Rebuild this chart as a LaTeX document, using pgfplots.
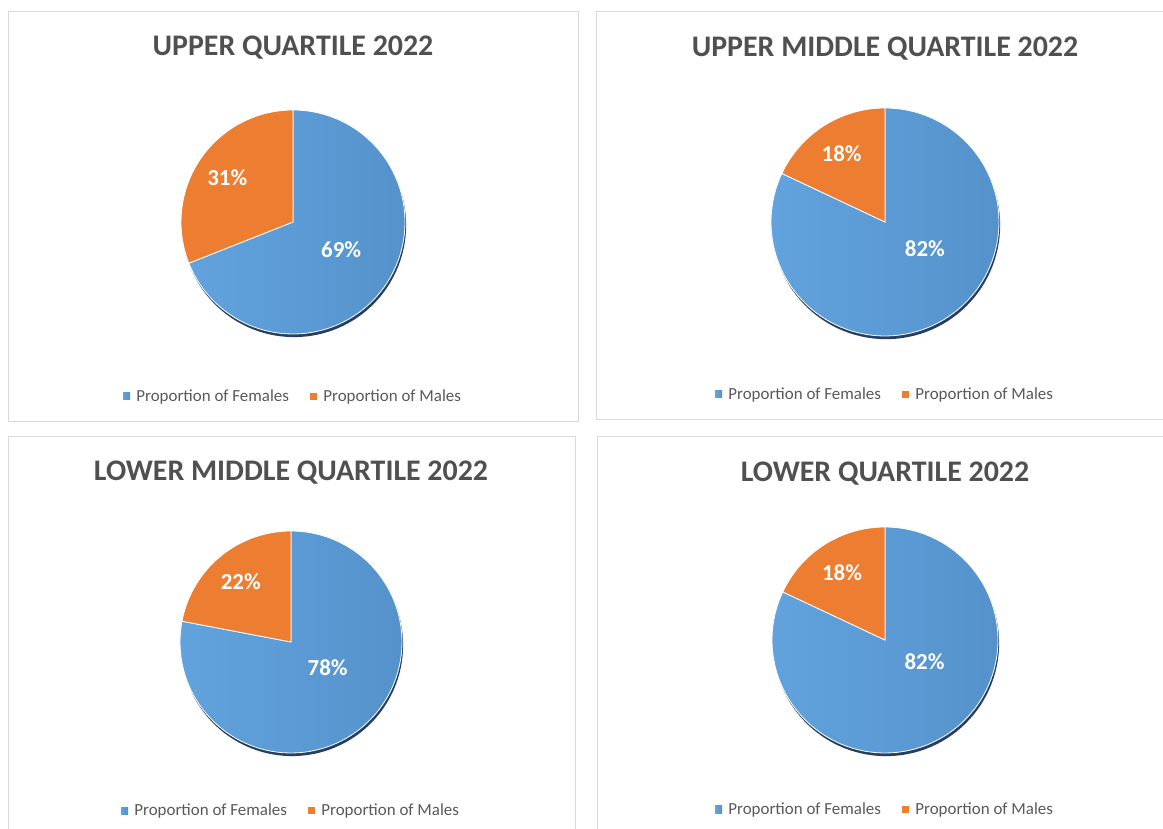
\documentclass[border=0pt]{standalone}
\usepackage{fontspec}
\setmainfont{Carlito}
\usepackage{pgfplots}
\usepackage{pgfplotstable}
\pgfplotsset{compat=1.18}
\definecolor{fem}{HTML}{5B9BD5}
\definecolor{feml}{HTML}{62A3DD}
\definecolor{femr}{HTML}{5592CC}
\definecolor{mal}{HTML}{ED7D31}
\definecolor{shad}{HTML}{243F61}
\definecolor{txt}{HTML}{595959}
\definecolor{ttl}{HTML}{505050}
\definecolor{frm}{HTML}{D9D9D9}

\pgfplotstableread{
quartile females males bx by
UQ 69 31 0.43 -0.25
UMQ 82 18 0.35 -0.23
LMQ 78 22 0.33 -0.23
LQ 82 18 0.35 -0.19
}\pietable

% #1 row, #2 cx, #3 cy, #4 diameter, #5 title, #6 title y, #7 legend y
\newcommand\pie[7]{%
  \pgfplotstablegetelem{#1}{females}\of\pietable \edef\fem{\pgfplotsretval}%
  \pgfplotstablegetelem{#1}{males}\of\pietable \edef\mal{\pgfplotsretval}%
  \pgfplotstablegetelem{#1}{bx}\of\pietable \edef\bx{\pgfplotsretval}%
  \pgfplotstablegetelem{#1}{by}\of\pietable \edef\by{\pgfplotsretval}%
  \pgfmathsetmacro\aE{90-3.6*\fem}%
  \pgfmathsetmacro\aM{90+3.6*\mal}%
  \pgfmathsetmacro\amid{90+1.8*\mal}%
  \pgfmathsetmacro\ox{0.71*cos(\amid)}%
  \pgfmathsetmacro\oy{0.71*sin(\amid)}%
  \begin{axis}[at={(#2bp,#3bp)}, anchor=center, scale only axis,
    width=#4bp, height=#4bp, xmin=-1, xmax=1, ymin=-1, ymax=1,
    hide axis, clip=false,
    title={#5},
    title style={at={(0.5,#6)}, anchor=center, font=\bfseries\fontsize{30}{36}\selectfont, text=ttl},
    legend columns=2,
    legend style={at={(0.5,#7)}, anchor=center, draw=none, fill=none,
      font=\fontsize{17}{20}\selectfont, text=txt,
      /tikz/every even column/.append style={column sep=19bp}},
    legend image code/.code={\path[##1, draw=none] (0bp,-3.5bp) rectangle (7bp,3.5bp); \path (11bp,0bp);},
  ]
  \addplot[fill=shad, draw=none, domain=0:360, samples=120, variable=\t, forget plot]
    ({0.01+cos(\t)},{-0.028+sin(\t)}) -- cycle;
  \addplot[left color=feml, right color=femr, draw=white, line width=0.8bp, domain=\aE:90, samples=100, variable=\t]
    ({cos(\t)},{sin(\t)}) -- (0,0) -- cycle;
  \addlegendentry{Proportion of Females}
  \addplot[fill=mal, draw=white, line width=0.8bp, domain=90:\aM, samples=60, variable=\t]
    ({cos(\t)},{sin(\t)}) -- (0,0) -- cycle;
  \addlegendentry{Proportion of Males}
  \node[font=\bfseries\fontsize{23}{27}\selectfont, text=white] at (\ox,\oy) {\mal\%};
  \node[font=\bfseries\fontsize{23}{27}\selectfont, text=white] at (\bx,\by) {\fem\%};
  \end{axis}%
}

\begin{document}
\begin{tikzpicture}
\useasboundingbox (0,0) rectangle (1163bp,829bp);
\clip (0,0) rectangle (1163bp,829bp);
\fill[white] (0,0) rectangle (1163bp,829bp);
\draw[frm, line width=1bp] (8bp,817bp) rectangle (578bp,407bp);
\draw[frm, line width=1bp] (596bp,817bp) rectangle (1175bp,409bp);
\draw[frm, line width=1bp] (8bp,392bp) rectangle (575bp,-10bp);
\draw[frm, line width=1bp] (597bp,392bp) rectangle (1175bp,-10bp);
\pie{0}{293}{607}{224}{UPPER QUARTILE 2022}{1.252}{-0.278}
\pie{1}{885}{607}{228}{UPPER MIDDLE QUARTILE 2022}{1.235}{-0.255}
\pie{2}{291}{187}{222}{LOWER MIDDLE QUARTILE 2022}{1.238}{-0.26}
\pie{3}{885}{189}{226}{LOWER QUARTILE 2022}{1.212}{-0.25}
\end{tikzpicture}
\end{document}
